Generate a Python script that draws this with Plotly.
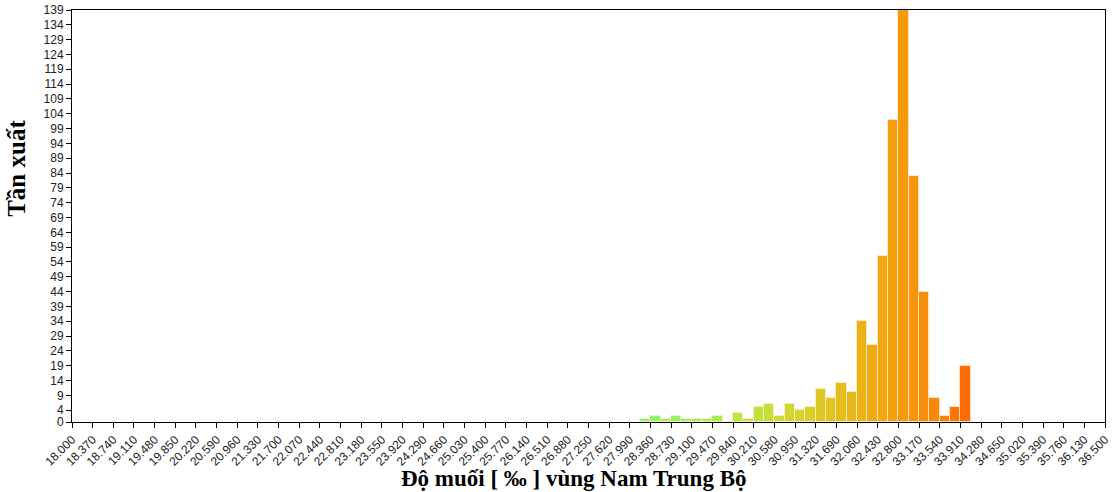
import plotly.graph_objects as go

# Salinity histogram, bins of 0.185 ‰ starting at 28.175 ‰
bin_start = 28.175
bin_width = 0.185
counts = [1, 2, 1, 2, 1, 1, 1, 2, 0, 3, 1, 5, 6, 2, 6, 4, 5, 11, 8, 13, 10,
          34, 26, 56, 102, 139, 83, 44, 8, 2, 5, 19]

# Axis ticks
x_tick_vals = [round(18.0 + 0.37 * i, 3) for i in range(51)]
x_tick_text = [f"{v:.3f}" for v in x_tick_vals]
y_tick_vals = [0] + list(range(4, 140, 5))

centers = [bin_start + bin_width * (i + 0.5) for i in range(len(counts))]

# green -> yellow -> orange ramp over salinity
color_stops = [
    [0.0, "#86F86C"],
    [0.22, "#A6EE52"],
    [0.35, "#BEE43C"],
    [0.48, "#D4D62C"],
    [0.62, "#E4BE1C"],
    [0.78, "#F4A00C"],
    [0.9, "#F8880A"],
    [1.0, "#FF6C00"],
]

fig = go.Figure(
    go.Bar(
        x=centers,
        y=counts,
        width=bin_width,
        marker=dict(
            color=centers,
            colorscale=color_stops,
            cmin=28.2,
            cmax=34.0,
            line=dict(color="rgba(255,235,210,0.8)", width=1),
        ),
        showlegend=False,
    )
)

axis_font = dict(family="Liberation Sans, Arial, sans-serif", size=12, color="#222")
title_font = dict(family="Liberation Serif, Times New Roman, serif", size=23, color="#000")

fig.update_layout(
    width=1116,
    height=492,
    margin=dict(l=72, r=11, t=10, b=70, autoexpand=False),
    paper_bgcolor="white",
    plot_bgcolor="white",
    bargap=0,
    xaxis=dict(
        range=[18.0, 36.5],
        tickmode="array",
        tickvals=x_tick_vals,
        ticktext=x_tick_text,
        tickangle=-45,
        tickfont=axis_font,
        ticks="outside",
        ticklen=5,
        tickcolor="#000",
        showline=True,
        linecolor="#000",
        linewidth=1,
        mirror=True,
        showgrid=False,
        zeroline=False,
        automargin=False,
    ),
    yaxis=dict(
        range=[0, 139],
        tickmode="array",
        tickvals=y_tick_vals,
        tickfont=axis_font,
        ticks="outside",
        ticklen=5,
        tickcolor="#000",
        showline=True,
        linecolor="#000",
        linewidth=1,
        mirror=True,
        showgrid=False,
        zeroline=False,
        automargin=False,
    ),
    annotations=[
        dict(
            text="<b>Độ muối [ ‰ ] vùng Nam Trung Bộ</b>",
            xref="paper", yref="paper",
            x=0.485, y=-0.136,
            xanchor="center", yanchor="middle",
            showarrow=False,
            font=title_font,
        ),
        dict(
            text="<b>Tần xuất</b>",
            xref="paper", yref="paper",
            x=-0.054, y=0.615,
            xanchor="center", yanchor="middle",
            textangle=-90,
            showarrow=False,
            font=dict(family="Liberation Serif, Times New Roman, serif", size=25, color="#000"),
        ),
    ],
)

fig.write_html("out.html")
